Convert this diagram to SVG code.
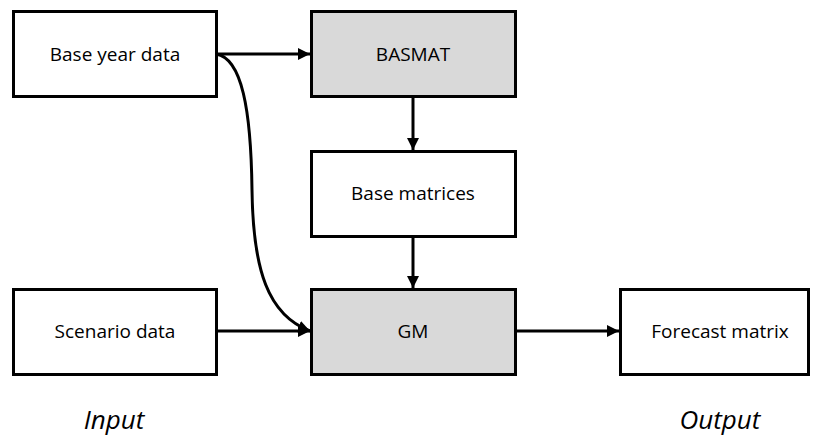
<svg xmlns="http://www.w3.org/2000/svg" width="813" height="437" viewBox="0 0 813 437">
  <style>
    .box { fill: #ffffff; stroke: #000000; stroke-width: 3; }
    .proc { fill: #d9d9d9; stroke: #000000; stroke-width: 3; }
    .lbl { font-family: "Open Sans", "Liberation Sans", sans-serif; font-size: 19px; fill: #000000; text-anchor: middle; dominant-baseline: central; }
    .cap { font-family: "Open Sans", "Liberation Sans", sans-serif; font-size: 26px; font-style: italic; fill: #000000; text-anchor: middle; }
    .edge { fill: none; stroke: #000000; stroke-width: 3; marker-end: url(#head); }
  </style>
  <defs>
    <marker id="head" viewBox="0 0 10 10" refX="10" refY="5" markerWidth="12" markerHeight="12" markerUnits="userSpaceOnUse" orient="auto">
      <path d="M0,0 L10,5 L0,10 Z" fill="#000000"/>
    </marker>
  </defs>

  <rect width="813" height="437" fill="#ffffff"/>

  <g id="connectors">
    <path class="edge" d="M216,54 L310,54"/>
    <path class="edge" d="M413,97 L413,150"/>
    <path class="edge" d="M413,236 L413,288"/>
    <path class="edge" d="M216,54 C242,58 251,110 252,190 C253,270 268,315 310,331"/>
    <path class="edge" d="M216,331 L310,331"/>
    <path class="edge" d="M515,331 L619,331"/>
  </g>

  <g id="base-year-data">
    <rect class="box" x="13.5" y="11.5" width="203" height="85"/>
    <text class="lbl" x="115" y="54">Base year data</text>
  </g>
  <g id="basmat">
    <rect class="proc" x="311.5" y="11.5" width="204" height="85"/>
    <text class="lbl" x="413" y="54">BASMAT</text>
  </g>
  <g id="base-matrices">
    <rect class="box" x="311.5" y="151.5" width="204" height="85"/>
    <text class="lbl" x="413" y="193">Base matrices</text>
  </g>
  <g id="scenario-data">
    <rect class="box" x="13.5" y="289.5" width="203" height="85"/>
    <text class="lbl" x="115" y="331">Scenario data</text>
  </g>
  <g id="gm">
    <rect class="proc" x="311.5" y="289.5" width="204" height="85"/>
    <text class="lbl" x="413" y="331">GM</text>
  </g>
  <g id="forecast-matrix">
    <rect class="box" x="620.5" y="289.5" width="188" height="85"/>
    <text class="lbl" x="720" y="331">Forecast matrix</text>
  </g>

  <text class="cap" x="114" y="429">Input</text>
  <text class="cap" x="720" y="429">Output</text>
</svg>
